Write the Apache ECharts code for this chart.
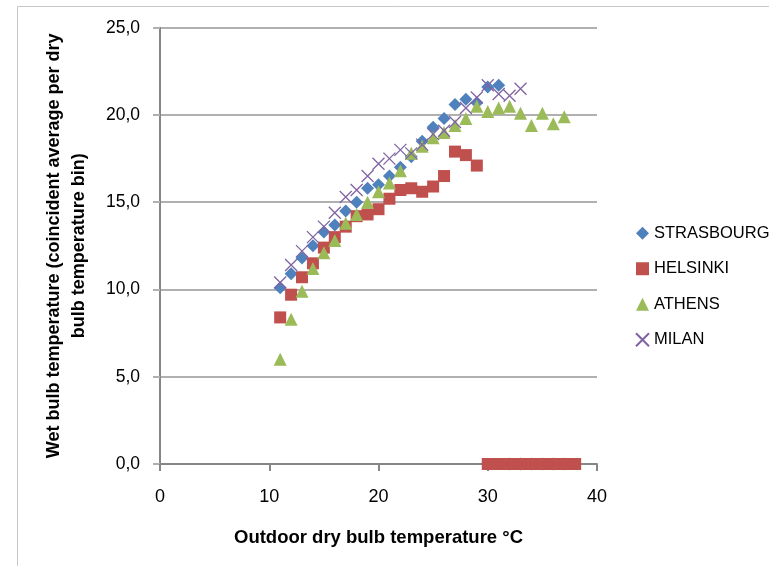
<!DOCTYPE html>
<html>
<head>
<meta charset="utf-8">
<script src="https://cdn.jsdelivr.net/npm/echarts@6/dist/echarts.min.js"></script>
<style>
    html, body { margin: 0; padding: 0; background: #fff; }
    #chart { width: 769px; height: 566px; }
</style>
</head>
<body>
<div id="chart"></div>
<script>
// dry bulb temperature bins (°C)
const dryBulb = [11, 12, 13, 14, 15, 16, 17, 18, 19, 20, 21, 22, 23, 24, 25, 26, 27, 28, 29, 30, 31, 32, 33, 34, 35, 36, 37, 38];

// coincident wet bulb temperature per bin
const strasbourg = [10.1, 10.9, 11.8, 12.5, 13.3, 13.7, 14.5, 15.0, 15.8, 16.0, 16.5, 17.0, 17.6, 18.5, 19.3, 19.8, 20.6, 20.9, 20.7, 21.6, 21.7, 0, 0, 0, 0, 0, 0, null];
const helsinki = [8.4, 9.7, 10.7, 11.5, 12.4, 13.0, 13.6, 14.2, 14.3, 14.6, 15.2, 15.7, 15.8, 15.6, 15.9, 16.5, 17.9, 17.7, 17.1, 0, 0, 0, 0, 0, 0, 0, 0, 0];
const athens = [6.0, 8.3, 9.9, 11.2, 12.1, 12.8, 13.8, 14.3, 15.0, 15.6, 16.1, 16.8, 17.8, 18.2, 18.7, 19.0, 19.4, 19.8, 20.5, 20.2, 20.4, 20.5, 20.1, 19.4, 20.1, 19.5, 19.9, null];
const milan = [10.4, 11.4, 12.2, 13.0, 13.6, 14.4, 15.3, 15.7, 16.5, 17.2, 17.5, 18.0, 17.8, 18.3, 18.9, 19.1, 19.6, 20.4, 21.0, 21.7, 21.2, 21.1, 21.5, null, null, null, null, null];

const seriesNames = ['STRASBOURG', 'HELSINKI', 'ATHENS', 'MILAN'];

(function () {
    const myChart = echarts.init(document.getElementById('chart'));
    const pairs = (vals) => dryBulb.map((t, i) => [t, vals[i]]).filter(p => p[1] !== null);
    const font = "'Liberation Sans', Arial, sans-serif";
    const crossPath = 'path://M0,0L10,10M10,0L0,10';

    const option = {
        animation: false,
        graphic: [
            {
                type: 'rect',
                shape: { x: 17.5, y: 6.5, width: 800, height: 600 },
                style: { fill: 'none', stroke: '#c8c8c8', lineWidth: 1 },
                z: -1
            }
        ],
        legend: {
            orient: 'vertical',
            left: 630,
            top: 218,
            itemWidth: 13,
            itemHeight: 13,
            itemGap: 15,
            data: seriesNames,
            textStyle: {
                fontFamily: font,
                fontSize: 16.5,
                lineHeight: 20.5,
                color: '#000'
            }
        },
        grid: {
            left: 160,
            top: 27.7,
            right: 172,
            bottom: 102
        },
        xAxis: {
            type: 'value',
            min: 0,
            max: 40,
            interval: 10,
            name: 'Outdoor dry bulb temperature °C',
            nameLocation: 'middle',
            nameGap: 64,
            nameTextStyle: {
                fontFamily: font,
                fontWeight: 'bold',
                fontSize: 18.5,
                color: '#000'
            },
            axisLine: { show: true, lineStyle: { color: '#868686', width: 2 } },
            axisTick: { show: true, length: 7, lineStyle: { color: '#868686', width: 2 } },
            axisLabel: {
                margin: 24,
                fontFamily: font,
                fontSize: 18,
                color: '#000'
            },
            splitLine: { show: false }
        },
        yAxis: {
            type: 'value',
            min: 0,
            max: 25,
            interval: 5,
            name: 'Wet bulb temperature (coincident average per dry\nbulb temperature bin)',
            nameLocation: 'middle',
            nameGap: 68,
            nameTextStyle: {
                fontFamily: font,
                fontWeight: 'bold',
                fontSize: 18,
                lineHeight: 25,
                color: '#000'
            },
            axisLine: { show: true, lineStyle: { color: '#868686', width: 2 } },
            axisTick: { show: true, length: 7, lineStyle: { color: '#b0b0b0', width: 2 } },
            axisLabel: {
                margin: 20,
                fontFamily: font,
                fontSize: 17.5,
                color: '#000',
                formatter: (v) => v.toFixed(1).replace('.', ',')
            },
            splitLine: { lineStyle: { color: '#b0b0b0', width: 2 } }
        },
        series: [
            {
                name: 'STRASBOURG',
                type: 'scatter',
                symbol: 'diamond',
                symbolSize: 13,
                itemStyle: { color: '#4f81bd', opacity: 1 },
                data: pairs(strasbourg)
            },
            {
                name: 'HELSINKI',
                type: 'scatter',
                symbol: 'rect',
                symbolSize: 12,
                itemStyle: { color: '#c0504d', opacity: 1 },
                data: pairs(helsinki)
            },
            {
                name: 'ATHENS',
                type: 'scatter',
                symbol: 'triangle',
                symbolSize: 13,
                itemStyle: { color: '#9bbb59', opacity: 1 },
                data: pairs(athens)
            },
            {
                name: 'MILAN',
                type: 'scatter',
                symbol: crossPath,
                symbolSize: 12,
                itemStyle: { color: 'transparent', borderColor: '#8064a2', borderWidth: 1.3, opacity: 1 },
                data: pairs(milan)
            }
        ]
    };
    myChart.setOption(option);
    window.addEventListener('resize', () => {
        myChart.resize();
    })
})();
</script>
</body>
</html>
